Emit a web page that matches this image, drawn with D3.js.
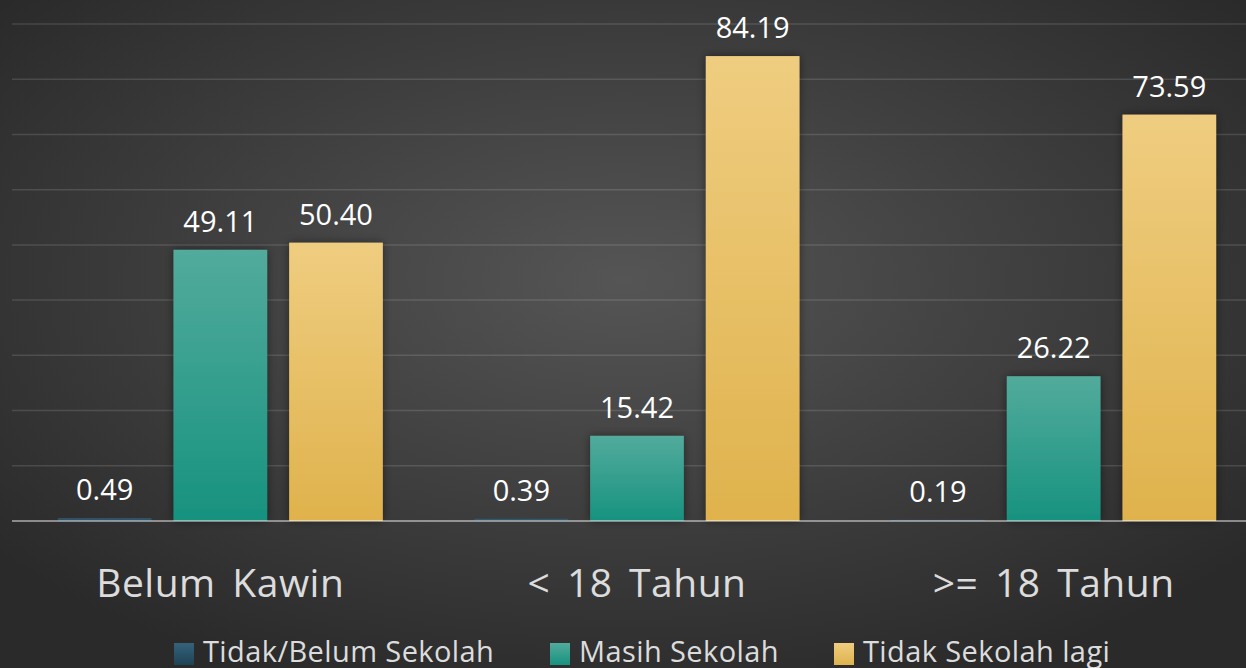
<!DOCTYPE html>
<html>
<head>
<meta charset="utf-8">
<script src="https://cdn.jsdelivr.net/npm/d3@7.9.0/dist/d3.min.js"></script>
<style>
  html, body { margin: 0; padding: 0; background: #2b2b2b; overflow: hidden; }
  svg { display: block; font-family: 'Open Sans', 'Noto Sans', sans-serif; }
</style>
</head>
<body>
<svg id="chart" width="1246" height="668"></svg>
<script>
const categories = ['Belum Kawin', '< 18 Tahun', '>= 18 Tahun'];
const seriesNames = ['Tidak/Belum Sekolah', 'Masih Sekolah', 'Tidak Sekolah lagi'];
const tidakBelum = [0.49, 0.39, 0.19];
const masih = [49.11, 15.42, 26.22];
const tidakLagi = [50.40, 84.19, 73.59];
const yTicks = [0, 10, 20, 30, 40, 50, 60, 70, 80, 90];

const seriesValues = [tidakBelum, masih, tidakLagi];
const colors = [
  { top: '#35627a', bottom: '#1f4255' },
  { top: '#52ab9c', bottom: '#17927f' },
  { top: '#efcd80', bottom: '#dfb24c' }
];

const width = 1246, height = 668;
const svg = d3.select('#chart');
const defs = svg.append('defs');

// background
const bg = defs.append('radialGradient').attr('id', 'bg')
  .attr('cx', '50%').attr('cy', '42%').attr('r', '65%');
bg.append('stop').attr('offset', '0%').attr('stop-color', '#555555');
bg.append('stop').attr('offset', '100%').attr('stop-color', '#2a2a2a');
svg.append('rect').attr('width', width).attr('height', height).attr('fill', 'url(#bg)');

colors.forEach((c, i) => {
  const g = defs.append('linearGradient').attr('id', 'grad' + i)
    .attr('x1', 0).attr('y1', 0).attr('x2', 0).attr('y2', 1);
  g.append('stop').attr('offset', '0%').attr('stop-color', c.top);
  g.append('stop').attr('offset', '100%').attr('stop-color', c.bottom);
});

const shadow = defs.append('filter').attr('id', 'shadow')
  .attr('x', '-30%').attr('y', '-10%').attr('width', '160%').attr('height', '120%');
shadow.append('feDropShadow').attr('dx', 0).attr('dy', 0)
  .attr('stdDeviation', 5).attr('flood-color', '#000').attr('flood-opacity', 0.45);

const x0 = d3.scaleBand().domain(categories).range([12, 1262])
  .paddingInner(0.22).paddingOuter(0.11);
const x1 = d3.scaleBand().domain(seriesNames).range([0, x0.bandwidth()])
  .paddingInner(0.19);
const y = d3.scaleLinear().domain([0, 90]).range([521, 24]);

// gridlines
svg.append('g').selectAll('line')
  .data(yTicks.filter(t => t > 0))
  .join('line')
  .attr('x1', 12).attr('x2', width)
  .attr('y1', d => y(d)).attr('y2', d => y(d))
  .attr('stroke', 'rgba(255,255,255,0.13)')
  .attr('stroke-width', 1.5);

const data = categories.map((cat, ci) => ({
  cat,
  values: seriesNames.map((s, si) => ({ s, si, v: seriesValues[si][ci] }))
}));

const groups = svg.append('g').selectAll('g')
  .data(data)
  .join('g')
  .attr('transform', d => `translate(${x0(d.cat)},0)`);

groups.selectAll('rect')
  .data(d => d.values)
  .join('rect')
  .attr('x', d => x1(d.s))
  .attr('width', x1.bandwidth())
  .attr('y', d => y(d.v))
  .attr('height', d => y(0) - y(d.v))
  .attr('fill', d => `url(#grad${d.si})`)
  .attr('filter', d => d.v > 1 ? 'url(#shadow)' : null);

groups.selectAll('text')
  .data(d => d.values)
  .join('text')
  .attr('x', d => x1(d.s) + x1.bandwidth() / 2)
  .attr('y', d => y(d.v) - 18)
  .attr('text-anchor', 'middle')
  .attr('fill', '#ffffff')
  .attr('font-size', 29)
  .text(d => d.v.toFixed(2));

// baseline
svg.append('line')
  .attr('x1', 12).attr('x2', width)
  .attr('y1', y(0)).attr('y2', y(0))
  .attr('stroke', 'rgba(255,255,255,0.45)')
  .attr('stroke-width', 2);

// category labels
svg.append('g').selectAll('text')
  .data(categories)
  .join('text')
  .attr('x', d => x0(d) + x0.bandwidth() / 2)
  .attr('y', 597)
  .attr('text-anchor', 'middle')
  .attr('fill', '#dcdcdc')
  .attr('font-size', 39)
  .attr('letter-spacing', 0.5)
  .style('word-spacing', '6px')
  .text(d => d);

// legend
const legendX = [174, 550, 834];
const legend = svg.append('g').selectAll('g')
  .data(seriesNames)
  .join('g')
  .attr('transform', (d, i) => `translate(${legendX[i]},0)`);
legend.append('rect')
  .attr('x', 0).attr('y', 643).attr('width', 20).attr('height', 22)
  .attr('fill', (d, i) => `url(#grad${i})`);
legend.append('text')
  .attr('x', 29).attr('y', 662)
  .attr('fill', '#dcdcdc')
  .attr('font-size', 29)
  .attr('letter-spacing', 0.4)
  .text(d => d);
</script>
</body>
</html>
